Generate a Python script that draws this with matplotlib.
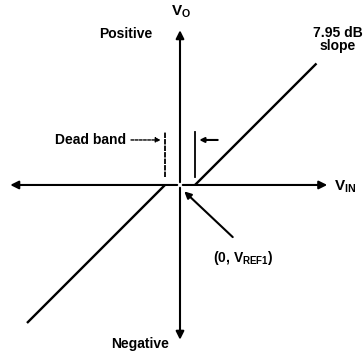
import matplotlib
matplotlib.use("Agg")
import matplotlib.pyplot as plt

plt.rcParams['font.family'] = ['Liberation Sans', 'DejaVu Sans']
plt.rcParams['mathtext.fontset'] = 'custom'
plt.rcParams['mathtext.rm'] = 'Liberation Sans:bold'
plt.rcParams['mathtext.it'] = 'Liberation Sans:bold'
plt.rcParams['mathtext.bf'] = 'Liberation Sans:bold'

# Transfer characteristic (units: arbitrary, 1 unit = half the dead band)
vin_pos = [1.0, 9.1]
vout_pos = [0.0, 8.1]
vin_neg = [-1.0, -10.2]
vout_neg = [0.0, -9.2]
dead_band = [-1.0, 1.0]

fig = plt.figure(figsize=(3.63, 3.56), dpi=100)
ax = fig.add_axes([0, 0, 1, 1])
ax.set_xlim(-12.0, 12.2)
ax.set_ylim(-11.4, 12.33)
ax.axis('off')

lw = 1.7
# axes with arrow heads
arrow_kw = dict(arrowstyle='-|>', color='black', lw=1.5, mutation_scale=12)
ax.annotate('', xy=(10.0, 0), xytext=(0, 0), arrowprops=arrow_kw)
ax.annotate('', xy=(-11.5, 0), xytext=(0, 0), arrowprops=arrow_kw)
ax.annotate('', xy=(0, 10.5), xytext=(0, 0), arrowprops=arrow_kw)
ax.annotate('', xy=(0, -10.5), xytext=(0, 0), arrowprops=arrow_kw)

# transfer lines
ax.plot(vin_pos, vout_pos, color='black', lw=lw, solid_capstyle='butt')
ax.plot(vin_neg, vout_neg, color='black', lw=lw, solid_capstyle='butt')

# dead band markers
ax.plot([dead_band[0]] * 2, [0.55, 3.55], color='black', lw=1.3, ls=(0, (3, 0.6)))
ax.plot([dead_band[1]] * 2, [0.5, 3.55], color='black', lw=1.3)
ax.annotate('', xy=(dead_band[0] - 0.1, 3.0), xytext=(-3.45, 3.0),
            arrowprops=dict(arrowstyle='-|>', color='black', lw=1.0, ls=(0, (2, 1)),
                            mutation_scale=7))
ax.annotate('', xy=(dead_band[1] + 0.1, 3.0), xytext=(2.7, 3.0),
            arrowprops=dict(arrowstyle='-|>', color='black', lw=1.5, mutation_scale=7))

# reference point arrow
ax.annotate('', xy=(0.15, -0.3), xytext=(3.65, -3.6),
            arrowprops=dict(arrowstyle='-|>', color='black', lw=1.5, mutation_scale=10))

fs = 10
ax.text(0.05, 11.55, r'V$_\mathregular{O}$', ha='center', va='center', fontsize=11, fontweight='bold')
ax.text(-1.85, 10.05, 'Positive', ha='right', va='center', fontsize=fs, fontweight='bold')
ax.text(10.5, 9.7, '7.95 dB\nslope', ha='center', va='center', fontsize=fs,
        fontweight='bold', linespacing=0.9)
ax.text(-3.6, 3.0, 'Dead band', ha='right', va='center', fontsize=fs, fontweight='bold')
ax.text(10.3, -0.15, r'V$_\mathregular{IN}$', ha='left', va='center', fontsize=11, fontweight='bold')
ax.text(2.2, -4.85, r'(0, V$_\mathregular{REF1}$)', ha='left', va='center', fontsize=fs, fontweight='bold')
ax.text(-0.75, -10.6, 'Negative', ha='right', va='center', fontsize=fs, fontweight='bold')

fig.savefig('out.png', dpi=100)
